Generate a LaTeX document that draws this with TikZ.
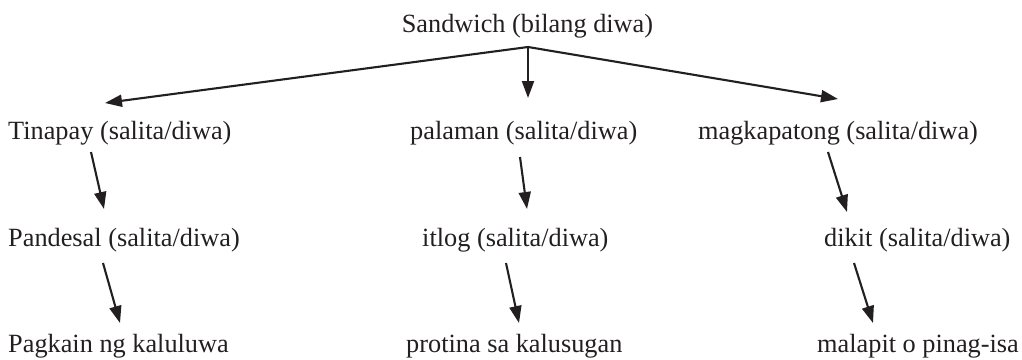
\documentclass[tikz,border=0pt]{standalone}
\usepackage{fontspec}
\setmainfont{Liberation Serif}
\usetikzlibrary{arrows.meta}
\definecolor{ink}{HTML}{231F20}
\begin{document}
\begin{tikzpicture}[x=1bp,y=-1bp,
  lbl/.style={inner sep=0pt,anchor=base west,text=ink,font=\fontsize{26.4pt}{30pt}\selectfont},
  conn/.style={draw=ink,line width=2.1bp,-{Triangle[length=17bp,width=12bp]}}]
\useasboundingbox (0,0) rectangle (1022,359);
% nodes
\node[lbl,anchor=base] (sand) at (527.5,32) {Sandwich (bilang diwa)};
\node[lbl] (tin) at (8,139) {Tinapay (salita/diwa)};
\node[lbl] (pal) at (410,139) {palaman (salita/diwa)};
\node[lbl] (mag) at (698,139) {magkapatong (salita/diwa)};
\node[lbl] (pan) at (8,246) {Pandesal (salita/diwa)};
\node[lbl] (itl) at (422,246) {itlog (salita/diwa)};
\node[lbl] (dik) at (824,246) {dikit (salita/diwa)};
\node[lbl] (pag) at (8,352) {Pagkain ng kaluluwa};
\node[lbl] (pro) at (406,352) {protina sa kalusugan};
\node[lbl,anchor=base east] (mal) at (1019,352) {malapit o pinag-isa};
% connector ends
\coordinate (split) at (528,47);
\coordinate (tinIn) at (105,103);
\coordinate (palIn) at (528,98);
\coordinate (magIn) at (838,99);
\coordinate (tinOut) at (91,152);  \coordinate (panIn) at (104,209);
\coordinate (panOut) at (103,263); \coordinate (pagIn) at (120,323);
\coordinate (palOut) at (520,157); \coordinate (itlIn) at (527,209);
\coordinate (itlOut) at (506,263); \coordinate (proIn) at (519,323);
\coordinate (magOut) at (828,152); \coordinate (dikIn) at (847,212);
\coordinate (dikOut) at (854,263); \coordinate (malIn) at (873,323);
% connectors
\draw[conn] (split) -- (tinIn);
\draw[conn] (split) -- (palIn);
\draw[conn] (split) -- (magIn);
\draw[conn] (tinOut) -- (panIn);
\draw[conn] (panOut) -- (pagIn);
\draw[conn] (palOut) -- (itlIn);
\draw[conn] (itlOut) -- (proIn);
\draw[conn] (magOut) -- (dikIn);
\draw[conn] (dikOut) -- (malIn);
\end{tikzpicture}
\end{document}
